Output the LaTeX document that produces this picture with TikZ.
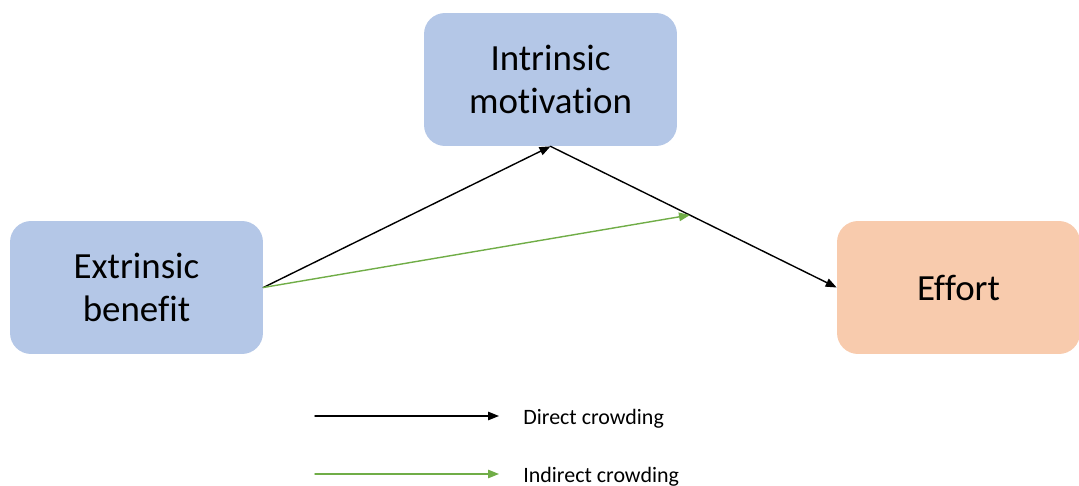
\documentclass[tikz,border=0pt]{standalone}
\usepackage{fontspec}
\setmainfont{Carlito}[RawFeature={-liga}]
\usetikzlibrary{arrows.meta}
\usetikzlibrary{positioning}
\tikzset{
	>={Triangle[length=2.2mm, width=1.7mm]},
	factor/.style={rounded corners=0.42cm, inner sep=0pt, minimum width=5.06cm, minimum height=2.66cm, align=center, font=\fontsize{21}{24}\selectfont},
	direct/.style={black, line width=0.8pt, ->},
	indirect/.style={greenA, line width=0.8pt, ->},
	legendtext/.style={anchor=west, inner sep=0pt, font=\fontsize{12.5}{14}\selectfont}
}

\begin{document}
\begin{tikzpicture}[x=0.02cm, y=-0.02cm, line cap=round, line join=round]
		
		% ---- Colors ----
		\definecolor{blueBox}{RGB}{180,199,231}
		\definecolor{orangeBox}{RGB}{248,203,173}
		\definecolor{greenA}{RGB}{112,173,71}
		
		\useasboundingbox (0,0) rectangle (1079,486);
		
		% ---- Boxes ----
		\node[factor, fill=blueBox] (intr) at (550.5,79.5) {Intrinsic\\motivation};
		\node[factor, fill=blueBox] (extr) at (136.5,287.5) {Extrinsic\\benefit};
		\node[factor, fill=orangeBox, minimum width=4.86cm] (effort) at (958.5,287.5) {Effort};
		
		% ---- Direct path ----
		\draw[direct] (extr.east) -- (intr.south);
		\draw[direct] (intr.south) -- (effort.west);
		
		% ---- Indirect path (ends on the direct line) ----
		\coordinate (ind) at (690,215);
		\draw[indirect] (extr.east) -- (ind);
		
		% ---- Legend ----
		\coordinate (d1) at (315,416);
		\coordinate (d2) at (499,416);
		\coordinate (i1) at (315,474);
		\coordinate (i2) at (499,474);
		\draw[direct] (d1) -- (d2);
		\draw[indirect] (i1) -- (i2);
		\node[legendtext] (dlab) at (523,418.5) {Direct crowding};
		\node[legendtext] (ilab) at (523,476.5) {Indirect crowding};
		
	\end{tikzpicture}
\end{document}
